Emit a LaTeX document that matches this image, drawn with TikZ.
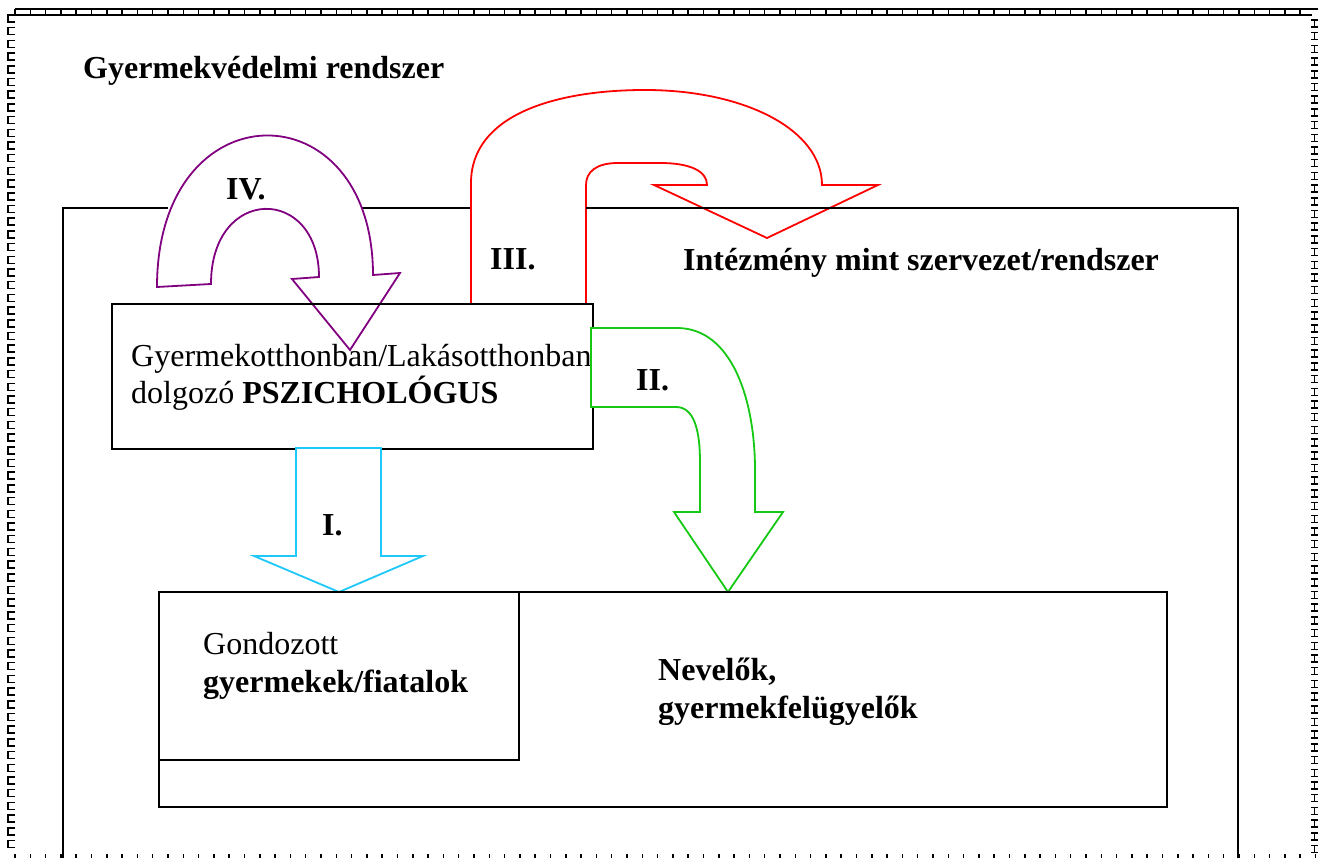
\documentclass[tikz,border=0pt]{standalone}
\usepackage{fontspec}
\setmainfont{Liberation Serif}
\definecolor{cI}{RGB}{30,200,250}
\definecolor{cII}{RGB}{20,200,20}
\definecolor{cIII}{RGB}{255,0,0}
\definecolor{cIV}{RGB}{128,0,128}
\tikzset{
  box/.style={draw=black,line width=2pt},
  bigarrow/.style={fill=white,line width=1.8pt,line join=miter},
  txt/.style={inner sep=0pt,anchor=base west,font=\fontsize{32}{38}\selectfont},
  btxt/.style={txt,font=\fontsize{32}{38}\selectfont\bfseries},
  pageborder/.style={draw=black,line width=1.5pt}
}
\begin{document}
\begin{tikzpicture}[x=1pt,y=-1pt]
\useasboundingbox (0,0) rectangle (1326,858);
% page border
\draw[pageborder] (15,9) -- (1312,9) (15,15) -- (1312,15);
\foreach \x in {15,30.3,...,1312} \draw[pageborder] (\x,9) -- (\x,15);
\draw[pageborder] (1312,9) -- (1318,9);
\foreach \y in {15,27.7,...,845} \draw[pageborder] (15,\y) -- (8,\y) -- (8,\y+7) -- (15,\y+7);
\foreach \y in {20,32.7,...,850} \draw[pageborder] (1311,\y) -- (1318,\y) (1314.5,\y) -- (1314.5,\y+7) (1311,\y+7) -- (1318,\y+7);
\foreach \x in {15,30.3,...,1316} \draw[pageborder] (\x,854) -- (\x,858);
% institution box
\draw[box] (63,208) rectangle (1238,860);
\fill[white] (168,203) rectangle (360,213);
\node[btxt] (title) at (83,79) {Gyermekvédelmi rendszer};
\node[btxt] (inst) at (683,271) {Intézmény mint szervezet/rendszer};
% arrow III
\path[bigarrow,draw=cIII] (471,303) -- (471,183) .. controls (471,115) and (555,90) .. (645,90)
  .. controls (745,90) and (822,130) .. (822,185) -- (878,185) -- (767,238) -- (654,185) -- (707,185)
  .. controls (707,172) and (692,163) .. (660,163) -- (618,163) .. controls (596,163) and (586,172) .. (586,185)
  -- (586,303);
\draw[line width=2pt] (586,208) -- (1238,208);
% arrow IV
\path[bigarrow,draw=cIV] (157,287) .. controls (157,87) and (373,87) .. (373,275) -- (400,273) -- (350,350)
  -- (292,279) -- (319,277) .. controls (319,185) and (211,185) .. (211,284) -- cycle;
% psychologist box
\node[box,minimum width=481pt,minimum height=145pt,anchor=north west,inner sep=0pt] (psz) at (111,303) {};
\node[txt] (psz1) at (131,367) {Gyermekotthonban/Lakásotthonban};
\node[txt] (psz2) at (131,404) {dolgozó \textbf{PSZICHOLÓGUS}};
% arrow I
\path[bigarrow,draw=cI] (296,448) -- (296,556) -- (254,556) -- (339,592) -- (423,556) -- (381,556) -- (381,448) -- cycle;
% arrow II
\path[bigarrow,draw=cII] (591,328) -- (677,328) .. controls (732,328) and (755,400) .. (755,470) -- (755,512)
  -- (783,512) -- (728,592) -- (674,512) -- (700,512) -- (700,462) .. controls (700,430) and (694,407) .. (676,407)
  -- (591,407) -- cycle;
% bottom boxes
\draw[box] (159,592) rectangle (1167,807);
\draw[box] (159,592) rectangle (519,760);
\node[txt] (gond1) at (203,654) {Gondozott};
\node[btxt] (gond2) at (203,692) {gyermekek/fiatalok};
\node[btxt] (nev1) at (658,680) {Nevelők,};
\node[btxt] (nev2) at (658,718) {gyermekfelügyelők};
% labels
\node[btxt] (lI) at (322,535) {I.};
\node[btxt] (lII) at (636,391) {II.};
\node[btxt] (lIII) at (490,270) {III.};
\node[btxt] (lIV) at (226,200) {IV.};
\end{tikzpicture}
\end{document}
